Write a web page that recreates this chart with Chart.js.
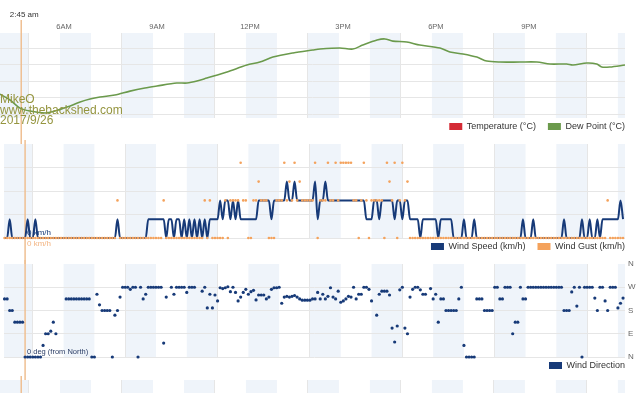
<!DOCTYPE html>
<html>
<head>
<meta charset="utf-8">
<script src="https://cdn.jsdelivr.net/npm/chart.js@4"></script>
<style>
  html, body { margin: 0; padding: 0; background: #fff; width: 640px; height: 393px; overflow: hidden; }
  canvas { position: absolute; left: 0; }
</style>
</head>
<body>
<canvas id="tempChart" width="640" height="149" style="top:0px"></canvas>
<canvas id="windChart" width="640" height="129" style="top:140px"></canvas>
<canvas id="dirChart" width="640" height="128" style="top:260px"></canvas>
<canvas id="nextChart" width="640" height="40" style="top:376px"></canvas>
<script>
// time axis (hours of the day)
const timeLabels = ['6AM', '9AM', '12PM', '3PM', '6PM', '9PM'];
const gridHours = [3, 6, 9, 12, 15, 18, 21];
const X_MIN = 2.065;
const X_MAX = 22.23;
const cursorHour = 2.75;

// dew point readings (hour, °C)
const dewHours = [2.06, 2.39, 2.71, 3.03, 3.52, 3.84, 4.23, 4.65, 4.97, 5.29, 5.77, 6.26, 6.74, 7.13, 7.77,
  8.10, 8.42, 8.74, 9.39, 10.03, 10.45, 10.87, 11.52, 12.16, 12.39, 13.03, 13.45, 13.77, 14.23, 14.48,
  14.74, 15.19, 15.61, 16.26, 16.58, 17.00, 17.45, 17.77, 18.19, 18.84, 19.39, 19.81, 20.35, 20.55,
  21.00, 21.32, 21.48, 21.74, 22.23];
const dewPoint = [5.21, 4.85, 4.36, 4.18, 4.06, 4.18, 4.42, 4.73, 4.91, 5.03, 5.15, 5.39, 5.58, 5.70, 5.88,
  5.88, 6.00, 6.18, 6.55, 6.97, 7.15, 7.45, 7.70, 7.88, 7.94, 8.00, 7.94, 8.18, 8.48, 8.55,
  8.42, 8.36, 8.18, 8.00, 7.76, 7.64, 7.45, 7.21, 7.15, 7.15, 7.15, 7.03, 7.03, 6.97,
  7.09, 7.03, 6.85, 6.85, 6.97];
const temperature = [];

// 5-minute wind readings starting 02:05
const sampleStart = 2 + 5 / 60;
const sampleStep = 5 / 60;

const windSpeed = [
  0, 0, 1.6, 0, 0, 0, 0, 0, 0, 1.6,
  0, 0, 1.6, 0, 0, 0, 0, 0, 0, 0,
  0, 0, 0, 0, 0, 0, 0, 0, 0, 0,
  0, 0, 0, 0, 0, 0, 0, 0, 0, 0,
  0, 0, 0, 0, 1.6, 0, 0, 0, 0, 0,
  0, 0, 0, 0, 0, 0, 1.6, 1.6, 1.6, 1.6,
  1.6, 1.6, 1.6, 0, 1.6, 1.6, 0, 1.6, 1.6, 0,
  1.6, 0, 1.6, 0, 1.6, 0, 1.6, 0, 1.6, 0,
  1.6, 1.6, 1.6, 1.6, 3.2, 1.6, 3.2, 3.2, 1.6, 3.2,
  1.6, 3.2, 1.6, 1.6, 1.6, 1.6, 1.6, 1.6, 1.6, 3.2,
  3.2, 3.2, 3.2, 3.2, 1.6, 3.2, 3.2, 3.2, 3.2, 3.2,
  4.8, 3.2, 3.2, 4.8, 3.2, 3.2, 3.2, 3.2, 3.2, 3.2,
  3.2, 4.8, 1.6, 3.2, 3.2, 4.8, 3.2, 3.2, 3.2, 3.2,
  3.2, 3.2, 3.2, 3.2, 3.2, 3.2, 3.2, 3.2, 3.2, 3.2,
  3.2, 1.6, 1.6, 1.6, 3.2, 3.2, 1.6, 3.2, 3.2, 3.2,
  3.2, 3.2, 1.6, 3.2, 3.2, 1.6, 3.2, 3.2, 1.6, 1.6,
  1.6, 1.6, 0, 1.6, 1.6, 1.6, 1.6, 1.6, 1.6, 0,
  1.6, 1.6, 1.6, 1.6, 1.6, 0, 0, 0, 0, 1.6,
  0, 0, 0, 1.6, 0, 0, 0, 0, 0, 0,
  0, 0, 0, 0, 0, 0, 0, 0, 0, 0,
  0, 0, 1.6, 0, 0, 0, 1.6, 0, 0, 0,
  0, 0, 0, 0, 0, 0, 0, 0, 1.6, 0,
  0, 0, 0, 0, 0, 1.6, 0, 0, 1.6, 0,
  0, 1.6, 0, 1.6, 1.6, 1.6, 1.6, 1.6, 1.6, 1.6,
  3.2, 1.6
];

const windGust = [
  0, 0, 0, 0, 0, 0, 0, 0, 0, 0,
  0, 0, 0, 0, 0, 0, 0, 0, 0, 0,
  0, 0, 0, 0, 0, 0, 0, 0, 0, 0,
  0, 0, 0, 0, 0, 0, 0, 0, 0, 0,
  0, 0, 0, 0, 3.2, 0, 0, 0, 0, 0,
  0, 0, 0, 0, 0, 0, 0, 0, 0, 0,
  0, 0, 3.2, 0, 0, 0, 0, 0, 0, 0,
  0, 0, 0, 0, 0, 0, 0, 0, 3.2, 0,
  3.2, 0, 0, 0, 0, 0, 3.2, 0, 3.2, 3.2,
  3.2, 3.2, 6.4, 3.2, 3.2, 0, 0, 3.2, 3.2, 4.8,
  3.2, 3.2, 3.2, 0, 0, 0, 3.2, 3.2, 3.2, 6.4,
  3.2, 4.8, 3.2, 6.4, 3.2, 4.8, 3.2, 3.2, 3.2, 3.2,
  3.2, 6.4, 0, 3.2, 3.2, 3.2, 6.4, 3.2, 3.2, 6.4,
  3.2, 6.4, 6.4, 6.4, 6.4, 6.4, 3.2, 3.2, 0, 3.2,
  6.4, 3.2, 0, 3.2, 3.2, 3.2, 3.2, 3.2, 0, 6.4,
  4.8, 3.2, 6.4, 0, 3.2, 6.4, 3.2, 4.8, 0, 0,
  0, 0, 0, 0, 0, 0, 0, 0, 0, 0,
  0, 0, 0, 0, 0, 0, 0, 0, 0, 0,
  0, 0, 0, 0, 0, 0, 0, 0, 0, 0,
  0, 0, 0, 0, 0, 0, 0, 0, 0, 0,
  0, 0, 0, 0, 0, 0, 0, 0, 0, 0,
  0, 0, 0, 0, 0, 0, 0, 0, 0, 0,
  0, 0, 0, 0, 0, 0, 0, 0, 0, 0,
  0, 0, 0, 0, 0, 3.2, 0, 0, 0, 0,
  0, 0
];

// wind direction, degrees from north
const windDir = [
  225, 225, 180, 180, 135, 135, 135, 135, 0, 0,
  0, 0, 0, 0, 0, 45, 90, 90, 100, 135,
  90, null, null, null, 225, 225, 225, 225, 225, 225,
  225, 225, 225, 225, 0, 0, 243, 202, 180, 180,
  180, 180, 0, 162, 180, 232, 270, 270, 270, 262,
  270, 270, 0, 270, 225, 243, 270, 270, 270, 270,
  270, 270, 54, 232, null, 270, 243, 270, 270, 270,
  270, 250, 270, 270, 270, null, null, 255, 270, 190,
  243, 190, 240, 217, 268, 265, 268, 272, 253, 270,
  250, 217, 232, 250, 262, 243, 253, 258, 221, 240,
  240, 240, 225, 232, 262, 268, 268, 270, 208, 232,
  235, 232, 235, 238, 232, 225, 220, 220, 220, 220,
  225, 225, 250, 225, 243, 225, 235, 268, 232, 225,
  255, 212, 217, 225, 235, 232, 270, 225, 243, 243,
  270, 270, 262, 217, null, 162, 243, 255, 255, 255,
  240, 112, 58, 120, 260, 270, 112, 90, 232, 262,
  270, 270, 260, 243, 243, null, 265, 225, 243, 135,
  225, 225, 180, 180, 180, 180, 180, 225, 270, 45,
  0, 0, 0, 0, 225, 225, 225, 180, 180, 180,
  180, 270, 270, 225, 225, 270, 270, 270, 90, 135,
  135, 270, 225, 225, 270, 270, 270, 270, 270, 270,
  270, 270, 270, 270, 270, 270, 270, 270, 180, 180,
  180, 252, 270, 197, 270, 0, 270, 270, 270, 270,
  228, 180, 270, 270, 217, 180, 270, 270, 270, 190,
  208, 228
];
const dirTicks = [0, 90, 180, 270, 360];
const dirLabels = ['N', 'E', 'S', 'W', 'N'];

const RED = '#d42a35';
const GREEN = '#6b9a4c';
const NAVY = '#173a78';
const ORANGE = '#f4a25c';
const GRID = '#e6e6e6';
const BAND = '#eff4fa';

Chart.defaults.font.family = '"Liberation Sans", Arial, sans-serif';

function toPoints(values) {
  return values.map((v, i) => ({ x: sampleStart + i * sampleStep, y: v }));
}

// shaded hour bands behind the plot
const hourBands = {
  id: 'hourBands',
  beforeDraw(chart) {
    const { ctx, chartArea: a, scales: { x } } = chart;
    ctx.save();
    ctx.fillStyle = BAND;
    for (let h = 2; h < X_MAX; h += 2) {
      const l = Math.max(x.getPixelForValue(h), a.left);
      const r = Math.min(x.getPixelForValue(h + 1), a.right);
      if (r > l) ctx.fillRect(l, a.top, r - l, a.bottom - a.top);
    }
    ctx.restore();
  }
};

// vertical cursor line at the hovered time
const crosshair = {
  id: 'crosshair',
  beforeDatasetsDraw(chart, args, opts) {
    const { ctx } = chart;
    const x = chart.scales.x.getPixelForValue(cursorHour);
    ctx.save();
    ctx.strokeStyle = '#efbf92';
    ctx.lineWidth = 1.5;
    ctx.beginPath();
    ctx.moveTo(x, opts.top || 0);
    ctx.lineTo(x, chart.height);
    ctx.stroke();
    if (opts.label) {
      ctx.font = '8px "Liberation Sans", Arial, sans-serif';
      ctx.fillStyle = '#333';
      ctx.textAlign = 'center';
      ctx.textBaseline = 'middle';
      ctx.fillText(opts.label, x + 3, 15);
    }
    ctx.restore();
  }
};

const watermark = {
  id: 'watermark',
  afterDraw(chart, args, opts) {
    const { ctx } = chart;
    ctx.save();
    ctx.font = '12px "Liberation Sans", Arial, sans-serif';
    ctx.fillStyle = '#95953f';
    opts.lines.forEach((t, i) => ctx.fillText(t, 0, 100 + i * 10.5));
    ctx.restore();
  }
};

// pull the legend up closer to the plot
const legendLift = {
  id: 'legendLift',
  afterLayout(chart) {
    const l = chart.legend;
    if (l && l.options.display) { l.top -= 8; l.bottom -= 8; }
  }
};

function legendOpts() {
  return {
    position: 'bottom',
    align: 'end',
    labels: {
      boxWidth: 13, boxHeight: 7, padding: 12, color: '#333', font: { size: 9 },
      sort: (a, b) => a.datasetIndex - b.datasetIndex,
      generateLabels: chart => Chart.defaults.plugins.legend.labels.generateLabels(chart)
        .map(l => ({ ...l, lineWidth: 0 }))
    }
  };
}

function xAxis(top) {
  return {
    type: 'linear', position: top ? 'top' : 'bottom', min: X_MIN, max: X_MAX,
    afterBuildTicks: s => { s.ticks = gridHours.map(v => ({ value: v })); },
    afterFit: s => { s.height = top ? 33 : 0; s.paddingLeft = 0; s.paddingRight = 0; },
    grid: { color: GRID, drawTicks: false },
    border: { display: false },
    ticks: top ? {
      padding: 2, labelOffset: 35, autoSkip: false, maxRotation: 0,
      color: '#666', font: { size: 7.5 },
      callback: (v, i) => timeLabels[i] || ''
    } : { display: false }
  };
}

// inner axes take no room and add no padding
function flat(width) {
  return s => { s.width = width; s.paddingTop = 0; s.paddingBottom = 0; };
}

function rightSpacer() {
  return {
    position: 'right', ticks: { display: false }, grid: { display: false, drawTicks: false },
    border: { display: false }, afterFit: flat(12)
  };
}

const base = {
  responsive: false, animation: false, devicePixelRatio: 1, events: []
};

new Chart(document.getElementById('tempChart'), {
  type: 'line',
  data: {
    datasets: [
      { label: 'Temperature (°C)', data: temperature, borderColor: RED, backgroundColor: RED, borderWidth: 1.5, pointRadius: 0 },
      {
        label: 'Dew Point (°C)', data: dewHours.map((h, i) => ({ x: h, y: dewPoint[i] })),
        borderColor: GREEN, backgroundColor: GREEN, borderWidth: 1.6, pointRadius: 0, tension: 0.3
      }
    ]
  },
  options: {
    ...base,
    layout: { padding: { top: 0, right: 3, bottom: 0, left: 0 } },
    plugins: {
      legend: legendOpts(), tooltip: { enabled: false },
      crosshair: { top: 20, label: '2:45 am' },
      watermark: { lines: ['MikeO', 'www.thebackshed.com', '2017/9/26'] }
    },
    scales: {
      x: xAxis(true),
      y: {
        min: 3.76, max: 8.91,
        afterBuildTicks: s => { s.ticks = [4, 5, 6, 7, 8].map(v => ({ value: v })); },
        ticks: { display: false }, grid: { color: GRID, drawTicks: false }, border: { display: false },
        afterFit: flat(0)
      },
      yR: rightSpacer()
    }
  },
  plugins: [hourBands, crosshair, watermark, legendLift]
});

new Chart(document.getElementById('windChart'), {
  type: 'line',
  data: {
    datasets: [
      {
        label: 'Wind Speed (km/h)', data: toPoints(windSpeed), yAxisID: 'y', order: 2,
        borderColor: NAVY, backgroundColor: NAVY, borderWidth: 2, pointRadius: 0,
        cubicInterpolationMode: 'monotone', clip: false
      },
      {
        label: 'Wind Gust (km/h)', data: toPoints(windGust), yAxisID: 'yG', order: 1,
        showLine: false, borderColor: ORANGE, backgroundColor: ORANGE, borderWidth: 0,
        pointRadius: 1.3, pointBorderWidth: 0, clip: false
      }
    ]
  },
  options: {
    ...base,
    layout: { padding: { top: 4, right: 3, bottom: 0, left: 0 } },
    plugins: { legend: legendOpts(), tooltip: { enabled: false }, crosshair: { top: 0 } },
    scales: {
      x: xAxis(false),
      y: {
        min: 0, max: 8,
        afterBuildTicks: s => { s.ticks = [0, 2, 4, 6, 8].map(v => ({ value: v })); },
        grid: { color: c => (c.tick && c.tick.value === 8 ? 'transparent' : GRID), drawTicks: false },
        border: { display: false },
        ticks: {
          mirror: true, padding: 23, labelOffset: -5, color: NAVY, font: { size: 8 },
          callback: v => (v === 0 ? '0 km/h' : '')
        },
        afterFit: flat(0)
      },
      yG: {
        position: 'left', min: 0, max: 8,
        afterBuildTicks: s => { s.ticks = [0].map(v => ({ value: v })); },
        grid: { display: false, drawTicks: false }, border: { display: false },
        ticks: {
          mirror: true, padding: 23, labelOffset: 6, color: '#f3b583', font: { size: 8 },
          callback: v => (v === 0 ? '0 km/h' : '')
        },
        afterFit: flat(0)
      },
      yR: rightSpacer()
    }
  },
  plugins: [hourBands, crosshair, legendLift]
});

new Chart(document.getElementById('dirChart'), {
  type: 'line',
  data: {
    datasets: [{
      label: 'Wind Direction', data: toPoints(windDir), showLine: false,
      borderColor: NAVY, backgroundColor: NAVY, borderWidth: 0,
      pointRadius: 1.6, pointBorderWidth: 0, clip: false
    }]
  },
  options: {
    ...base,
    layout: { padding: { top: 4, right: 3, bottom: 0, left: 0 } },
    plugins: { legend: legendOpts(), tooltip: { enabled: false }, crosshair: { top: 0 } },
    scales: {
      x: xAxis(false),
      y: {
        min: 0, max: 360,
        afterBuildTicks: s => { s.ticks = dirTicks.map(v => ({ value: v })); },
        grid: { color: c => (c.tick && c.tick.value === 360 ? 'transparent' : GRID), drawTicks: false },
        border: { display: false },
        ticks: {
          mirror: true, padding: 23, labelOffset: -5, color: '#2e4068', font: { size: 7.5 },
          callback: v => (v === 0 ? '0 deg (from North)' : '')
        },
        afterFit: flat(0)
      },
      yR: {
        position: 'right', min: 0, max: 360,
        afterBuildTicks: s => { s.ticks = dirTicks.map(v => ({ value: v })); },
        grid: { display: false, drawTicks: false }, border: { display: false },
        ticks: { padding: 3, color: '#666', font: { size: 8 }, callback: v => dirLabels[dirTicks.indexOf(v)] },
        afterFit: flat(12)
      }
    }
  },
  plugins: [hourBands, crosshair, legendLift]
});

// top edge of the next panel (cut off by the screenshot)
new Chart(document.getElementById('nextChart'), {
  type: 'line',
  data: { datasets: [] },
  options: {
    ...base,
    layout: { padding: { top: 4, right: 3, bottom: 0, left: 0 } },
    plugins: { legend: { display: false }, tooltip: { enabled: false }, crosshair: { top: 0 } },
    scales: {
      x: xAxis(false),
      y: { display: false },
      yR: rightSpacer()
    }
  },
  plugins: [hourBands, crosshair]
});
</script>
</body>
</html>
